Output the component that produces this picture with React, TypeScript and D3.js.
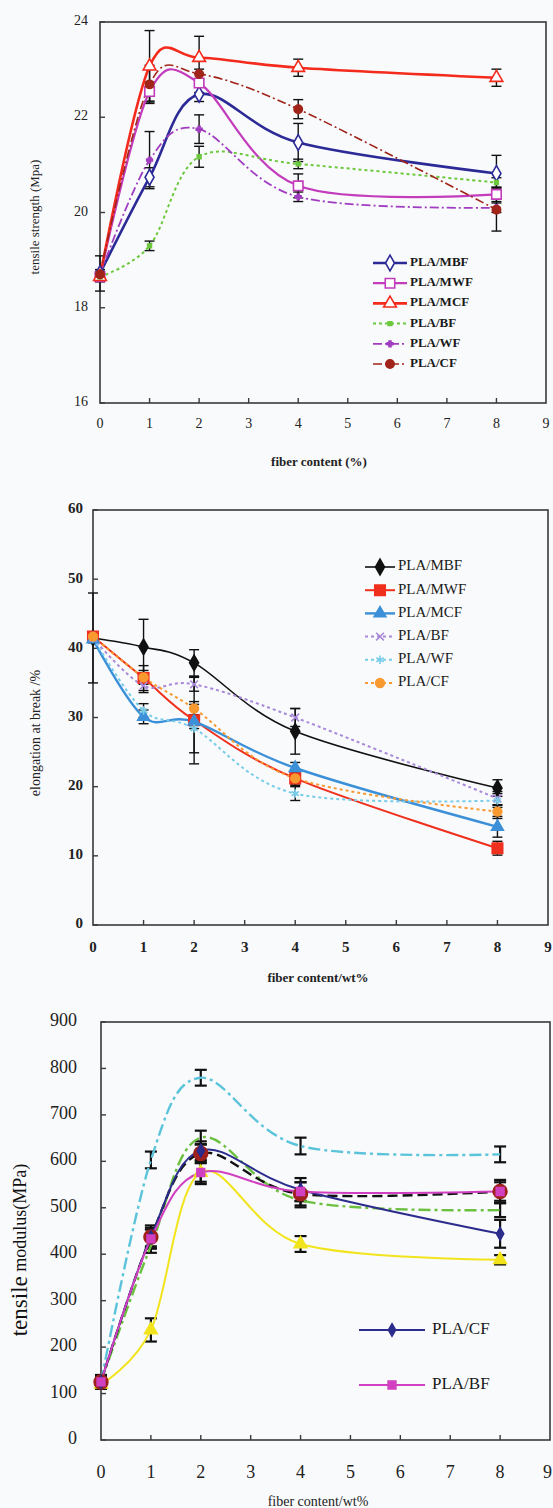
import * as d3 from "d3";

// fiber content (wt%) shared by all three panels
const fiberContent = [0, 1, 2, 4, 8];
const xTickValues = [0, 1, 2, 3, 4, 5, 6, 7, 8, 9];

// tensile strength (MPa)
const strengthTicks = [16, 18, 20, 22, 24];
const strengthMBF = [18.72, 20.74, 22.48, 21.47, 20.82];
const strengthMWF = [18.65, 22.54, 22.72, 20.56, 20.38];
const strengthMCF = [18.65, 23.07, 23.25, 23.04, 22.83];
const strengthBF = [18.65, 19.3, 21.17, 21.02, 20.63];
const strengthWF = [18.7, 21.1, 21.75, 20.33, 20.1];
const strengthCF = [18.7, 22.69, 22.91, 22.17, 20.06];
const strengthErrMBF = [0.37, 0.2, 0.15, 0.4, 0.38];
const strengthErrMWF = [0.1, 0.2, 0.2, 0.25, 0.15];
const strengthErrMCF = [0.1, 0.75, 0.45, 0.18, 0.18];
const strengthErrBF = [0.1, 0.1, 0.22, 0.1, 0.1];
const strengthErrWF = [0.1, 0.6, 0.3, 0.1, 0.1];
const strengthErrCF = [0.1, 0.4, 0.1, 0.2, 0.45];

// elongation at break (%)
const elongTicks = [0, 10, 20, 30, 40, 50, 60];
const elongMBF = [41.5, 40.2, 37.9, 28.0, 19.8];
const elongMWF = [41.7, 35.7, 29.6, 21.2, 11.1];
const elongMCF = [41.3, 30.1, 29.4, 22.7, 14.2];
const elongBF = [41.5, 34.6, 34.8, 30.0, 18.3];
const elongWF = [41.5, 31.0, 28.4, 19.0, 18.0];
const elongCF = [41.7, 35.8, 31.3, 21.2, 16.4];
const elongErrMBF = [6.5, 4, 1.9, 3.3, 1.2];
const elongErrMWF = [0.5, 1.8, 6.3, 1, 1];
const elongErrMCF = [0.5, 1, 1, 0.8, 1.5];
const elongErrBF = [0.5, 1, 1, 1.3, 1];
const elongErrWF = [0.5, 1, 3.5, 1, 1];
const elongErrCF = [0.5, 1, 1, 0.8, 1];

// tensile modulus (MPa)
const modulusTicks = [0, 100, 200, 300, 400, 500, 600, 700, 800, 900];
const modulusCF = [125, 437, 623, 539, 444];
const modulusBF = [125, 433, 576, 535, 535];
const modulusWF = [125, 603, 780, 633, 615];
const modulusMBF = [125, 418, 651, 516, 495];
const modulusMWF = [125, 437, 617, 530, 535];
const modulusMCF = [120, 237, 576, 422, 388];
const modulusErrCF = [15, 25, 20, 25, 30];
const modulusErrBF = [10, 20, 25, 20, 20];
const modulusErrWF = [10, 18, 17, 18, 17];
const modulusErrMBF = [10, 15, 15, 15, 15];
const modulusErrMWF = [10, 20, 20, 25, 25];
const modulusErrMCF = [10, 25, 20, 17, 10];

const serif = "'Liberation Serif', 'DejaVu Serif', serif";
const pageWidth = 553;

type Series = {
  name: string;
  values: number[];
  errors: number[];
  color: string;
  width: number;
  dash?: string;
  marker?: d3.SymbolType;
  markerSize?: number;
  markerFill?: string;
  markerStroke?: string;
  legend?: boolean;
};

type PanelCfg = {
  left: number;
  right: number;
  top: number;
  bottom: number;
  yDomain: [number, number];
  yTicks: number[];
  tickFont: number;
  tickWeight: string;
  yLabelX: number;
  xLabelY: number;
  xTickFont: number;
  errWidth: number;
  capHalf: number;
  legendX: [number, number, number];
  legendY: number;
  legendStep: number;
  legendFont: number;
  legendWeight: string;
  series: Series[];
};

function Panel({ cfg }: { cfg: PanelCfg }) {
  const x = d3.scaleLinear().domain([0, 9]).range([cfg.left, cfg.right]);
  const y = d3.scaleLinear().domain(cfg.yDomain).range([cfg.bottom, cfg.top]);
  const line = d3
    .line<number>()
    .x((_, i) => x(fiberContent[i]))
    .y((d) => y(d))
    .curve(d3.curveCardinal.tension(0));

  const markerPath = (s: Series) =>
    d3.symbol().type(s.marker as d3.SymbolType).size(s.markerSize || 40)() || "";

  const legendSeries = cfg.series.filter((s) => s.legend !== false);

  return (
    <g>
      {/* frame */}
      <rect
        x={cfg.left}
        y={cfg.top}
        width={cfg.right - cfg.left}
        height={cfg.bottom - cfg.top}
        fill="none"
        stroke="#3a3a3a"
        strokeWidth={1.6}
      />
      {/* x ticks pointing inward */}
      {xTickValues.map((t) => (
        <g key={"xt" + t}>
          {t > 0 && t < 9 && (
            <line x1={x(t)} x2={x(t)} y1={cfg.bottom} y2={cfg.bottom - 5} stroke="#3a3a3a" strokeWidth={1.4} />
          )}
          <text
            x={Math.min(x(t), pageWidth - cfg.xTickFont * 0.3)}
            y={cfg.xLabelY}
            textAnchor="middle"
            dominantBaseline="middle"
            fontFamily={serif}
            fontSize={cfg.xTickFont}
            fontWeight={cfg.tickWeight}
            fill="#222"
          >
            {t}
          </text>
        </g>
      ))}
      {/* y ticks */}
      {cfg.yTicks.map((t) => (
        <g key={"yt" + t}>
          <line x1={cfg.left} x2={cfg.left + 5} y1={y(t)} y2={y(t)} stroke="#3a3a3a" strokeWidth={1.4} />
          <text
            x={cfg.yLabelX}
            y={y(t)}
            textAnchor="end"
            dominantBaseline="middle"
            fontFamily={serif}
            fontSize={cfg.tickFont}
            fontWeight={cfg.tickWeight}
            fill="#222"
          >
            {t}
          </text>
        </g>
      ))}
      {/* error bars */}
      {cfg.series.map((s) =>
        s.values.map((v, i) => (
          <g key={"e" + s.name + i} stroke="#111" strokeWidth={cfg.errWidth}>
            <line x1={x(fiberContent[i])} x2={x(fiberContent[i])} y1={y(v - s.errors[i])} y2={y(v + s.errors[i])} />
            <line
              x1={x(fiberContent[i]) - cfg.capHalf}
              x2={x(fiberContent[i]) + cfg.capHalf}
              y1={y(v + s.errors[i])}
              y2={y(v + s.errors[i])}
            />
            <line
              x1={x(fiberContent[i]) - cfg.capHalf}
              x2={x(fiberContent[i]) + cfg.capHalf}
              y1={y(v - s.errors[i])}
              y2={y(v - s.errors[i])}
            />
          </g>
        ))
      )}
      {/* lines */}
      {cfg.series.map((s) => (
        <path
          key={"l" + s.name}
          d={line(s.values) || ""}
          fill="none"
          stroke={s.color}
          strokeWidth={s.width}
          strokeDasharray={s.dash}
        />
      ))}
      {/* markers */}
      {cfg.series.map((s) =>
        s.marker
          ? s.values.map((v, i) => (
              <path
                key={"m" + s.name + i}
                d={markerPath(s)}
                transform={`translate(${x(fiberContent[i])},${y(v)})`}
                fill={s.markerFill || s.color}
                stroke={s.markerStroke || s.color}
                strokeWidth={1.6}
              />
            ))
          : null
      )}
      {/* legend */}
      {legendSeries.map((s, i) => {
        const ly = cfg.legendY + i * cfg.legendStep;
        const [x1, x2, tx] = cfg.legendX;
        return (
          <g key={"lg" + s.name}>
            <line x1={x1} x2={x2} y1={ly} y2={ly} stroke={s.color} strokeWidth={s.width} strokeDasharray={s.dash} />
            {s.marker && (
              <path
                d={markerPath(s)}
                transform={`translate(${(x1 + x2) / 2},${ly})`}
                fill={s.markerFill || s.color}
                stroke={s.markerStroke || s.color}
                strokeWidth={1.6}
              />
            )}
            <text
              x={tx}
              y={ly}
              dominantBaseline="middle"
              fontFamily={serif}
              fontSize={cfg.legendFont}
              fontWeight={cfg.legendWeight}
              fill="#1a1a1a"
            >
              {s.name}
            </text>
          </g>
        );
      })}
    </g>
  );
}

const strengthPanel: PanelCfg = {
  left: 100,
  right: 546,
  top: 22,
  bottom: 403,
  yDomain: [16, 24],
  yTicks: strengthTicks,
  tickFont: 14,
  tickWeight: "normal",
  yLabelX: 88,
  xLabelY: 425,
  xTickFont: 14,
  errWidth: 1.4,
  capHalf: 5,
  legendX: [373, 407, 410],
  legendY: 263,
  legendStep: 20.2,
  legendFont: 13,
  legendWeight: "bold",
  series: [
    { name: "PLA/MBF", values: strengthMBF, errors: strengthErrMBF, color: "#2c2a96", width: 2.6, marker: d3.symbolDiamond, markerSize: 70, markerFill: "#fff" },
    { name: "PLA/MWF", values: strengthMWF, errors: strengthErrMWF, color: "#c23cbc", width: 2.2, marker: d3.symbolSquare, markerSize: 90, markerFill: "#fff" },
    { name: "PLA/MCF", values: strengthMCF, errors: strengthErrMCF, color: "#f42a1c", width: 2.6, marker: d3.symbolTriangle, markerSize: 70, markerFill: "#fff" },
    { name: "PLA/BF", values: strengthBF, errors: strengthErrBF, color: "#6cc83c", width: 2, dash: "3,3", marker: d3.symbolSquare, markerSize: 14 },
    { name: "PLA/WF", values: strengthWF, errors: strengthErrWF, color: "#a03cc0", width: 1.8, dash: "9,3,2,3", marker: d3.symbolCross, markerSize: 18 },
    { name: "PLA/CF", values: strengthCF, errors: strengthErrCF, color: "#a0241a", width: 1.6, dash: "9,3,2,3", marker: d3.symbolCircle, markerSize: 55 },
  ],
};

const elongPanel: PanelCfg = {
  left: 93,
  right: 548,
  top: 510,
  bottom: 925,
  yDomain: [0, 60],
  yTicks: elongTicks,
  tickFont: 15,
  tickWeight: "bold",
  yLabelX: 83,
  xLabelY: 949,
  xTickFont: 15,
  errWidth: 1.4,
  capHalf: 5,
  legendX: [365, 395, 398],
  legendY: 567,
  legendStep: 23.2,
  legendFont: 15,
  legendWeight: "normal",
  series: [
    { name: "PLA/MBF", values: elongMBF, errors: elongErrMBF, color: "#111", width: 1.6, marker: d3.symbolDiamond, markerSize: 70 },
    { name: "PLA/MWF", values: elongMWF, errors: elongErrMWF, color: "#f0301e", width: 2, marker: d3.symbolSquare, markerSize: 110 },
    { name: "PLA/MCF", values: elongMCF, errors: elongErrMCF, color: "#3c90d8", width: 2.4, marker: d3.symbolTriangle, markerSize: 60, markerStroke: "#3c90d8" },
    { name: "PLA/BF", values: elongBF, errors: elongErrBF, color: "#a888d8", width: 2, dash: "3,3", marker: d3.symbolX, markerSize: 40, markerFill: "none" },
    { name: "PLA/WF", values: elongWF, errors: elongErrWF, color: "#78cce8", width: 2, dash: "3,3", marker: d3.symbolAsterisk, markerSize: 50, markerFill: "none" },
    { name: "PLA/CF", values: elongCF, errors: elongErrCF, color: "#f89a30", width: 2, dash: "3,3", marker: d3.symbolCircle, markerSize: 60 },
  ],
};

const modulusPanel: PanelCfg = {
  left: 101,
  right: 550,
  top: 1022,
  bottom: 1440,
  yDomain: [0, 900],
  yTicks: modulusTicks,
  tickFont: 18,
  tickWeight: "normal",
  yLabelX: 77,
  xLabelY: 1474,
  xTickFont: 18,
  errWidth: 2.2,
  capHalf: 6,
  legendX: [359, 425, 432],
  legendY: 1330,
  legendStep: 55,
  legendFont: 17,
  legendWeight: "normal",
  series: [
    { name: "PLA/WF", values: modulusWF, errors: modulusErrWF, color: "#5cc4da", width: 2.4, dash: "12,4,3,4", legend: false },
    { name: "PLA/MBF", values: modulusMBF, errors: modulusErrMBF, color: "#6cc040", width: 2.4, dash: "12,4,3,4", legend: false },
    { name: "PLA/MCF", values: modulusMCF, errors: modulusErrMCF, color: "#f2e41c", width: 2, marker: d3.symbolTriangle, markerSize: 70, legend: false },
    { name: "PLA/MWF", values: modulusMWF, errors: modulusErrMWF, color: "#111", width: 2.4, dash: "10,5", marker: d3.symbolCircle, markerSize: 150, markerFill: "#a0201c", markerStroke: "#a0201c", legend: false },
    { name: "PLA/CF", values: modulusCF, errors: modulusErrCF, color: "#2c2c8c", width: 2, marker: d3.symbolDiamond, markerSize: 45 },
    { name: "PLA/BF", values: modulusBF, errors: modulusErrBF, color: "#d040c0", width: 2, marker: d3.symbolSquare, markerSize: 60 },
  ],
};

export default function App() {
  return (
    <svg
      width={pageWidth}
      height={1508}
      style={{ position: "absolute", left: 0, top: 0, background: "#f9fafc" }}
    >
      <Panel cfg={strengthPanel} />
      <text x={36} y={217} transform="rotate(-90 36 217)" textAnchor="middle" dominantBaseline="middle" fontFamily={serif} fontSize={13} fill="#222">
        tensile strength (Mpa)
      </text>
      <text x={319} y={463} textAnchor="middle" dominantBaseline="middle" fontFamily={serif} fontSize={13} fontWeight="bold" fill="#222">
        fiber content (%)
      </text>

      <Panel cfg={elongPanel} />
      <text x={37} y={733} transform="rotate(-90 37 733)" textAnchor="middle" dominantBaseline="middle" fontFamily={serif} fontSize={14} fill="#222">
        elongation at break /%
      </text>
      <text x={318} y={979} textAnchor="middle" dominantBaseline="middle" fontFamily={serif} fontSize={13} fontWeight="bold" fill="#222">
        fiber content/wt%
      </text>

      <Panel cfg={modulusPanel} />
      <text x={22} y={1250} transform="rotate(-90 22 1250)" textAnchor="middle" dominantBaseline="middle" fontFamily={serif} fill="#111">
        <tspan fontSize={23}>tensile</tspan>
        <tspan fontSize={18}> modulus(MPa)</tspan>
      </text>
      <text x={318} y={1503} textAnchor="middle" dominantBaseline="middle" fontFamily={serif} fontSize={14} fill="#222">
        fiber content/wt%
      </text>
    </svg>
  );
}
